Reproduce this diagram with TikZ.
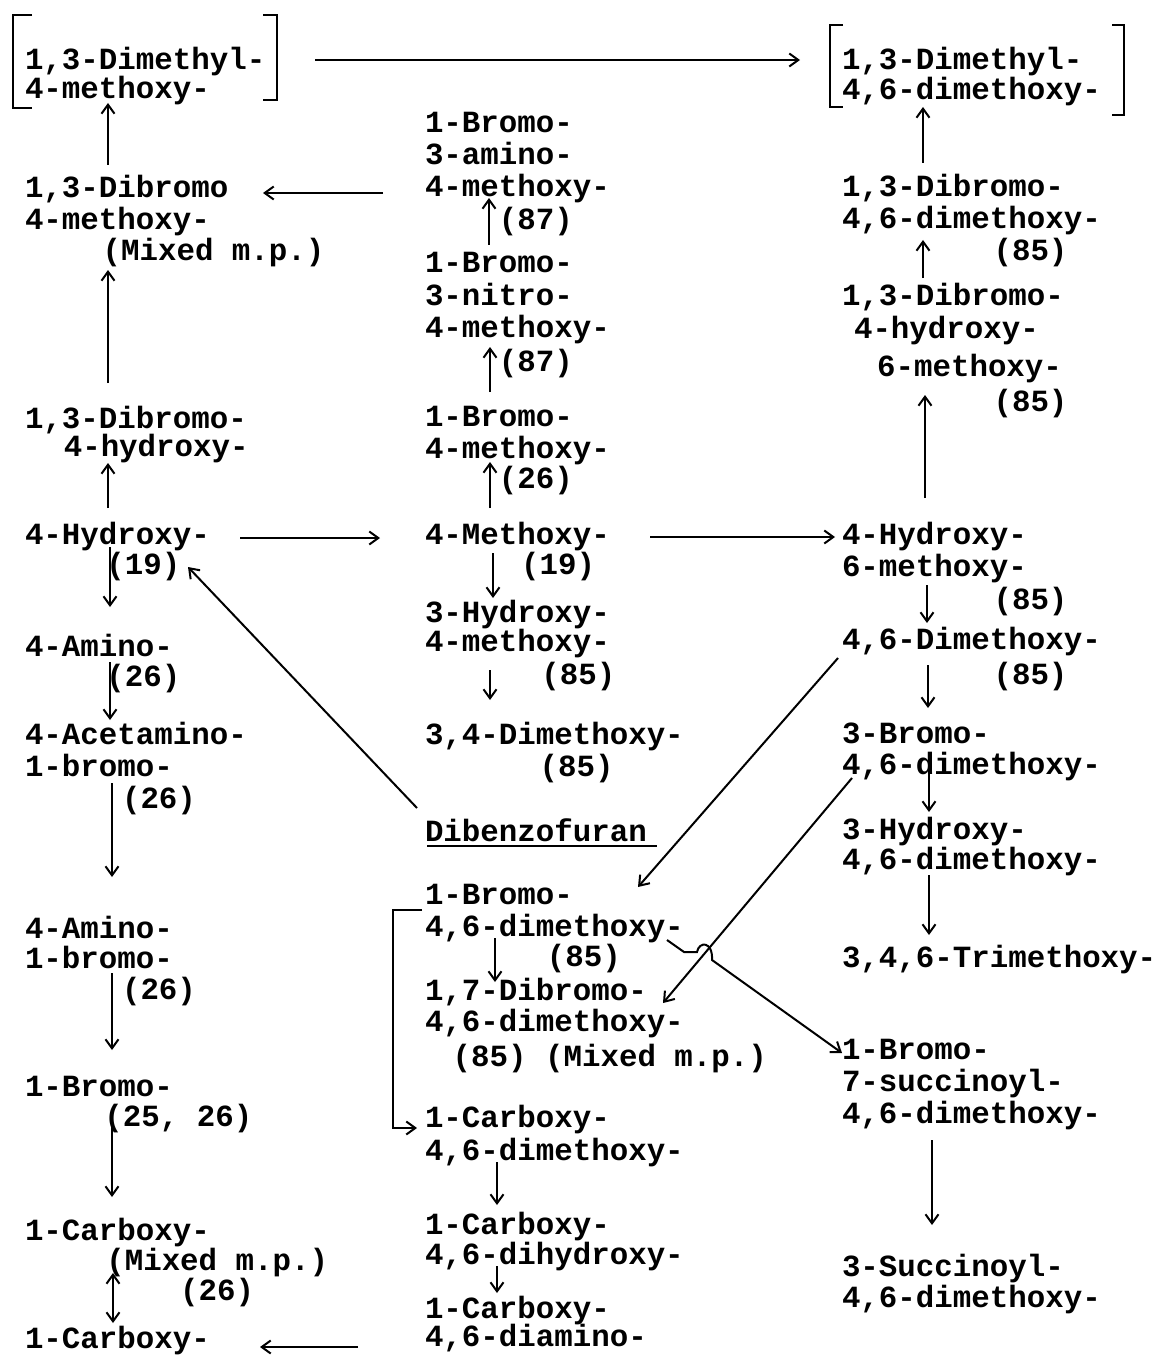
\documentclass[tikz,border=0pt]{standalone}
\usepackage{fontspec}
\newfontfamily\twf{Liberation Mono}
\usetikzlibrary{arrows.meta}
\newlength\chw
\setlength\chw{18.48pt}
\newcommand\ind[1]{\hspace*{#1\chw}}
\newcommand\fst{\rule{0pt}{24pt}}
\tikzset{
  txt/.style={anchor=north west, inner sep=0pt, outer sep=0pt, align=left,
    font=\twf\bfseries\fontsize{30.8}{30}\selectfont},
  arr/.style={draw, line width=2pt, -{Straight Barb[length=9pt,width=13pt]}},
  arr2/.style={draw, line width=2pt, {Straight Barb[length=9pt,width=13pt]}-{Straight Barb[length=9pt,width=13pt]}},
  brk/.style={draw, line width=2.6pt},
}
\begin{document}
\begin{tikzpicture}[x=1pt,y=-1pt]
\useasboundingbox (0,0) rectangle (1168,1356);
\fill[white] (0,0) rectangle (1168,1356);

% left column
\node[txt] (L1) at (25,46) {\fst 1,3-Dimethyl-\\[-1pt]4-methoxy-};
\node[txt] (L2) at (25,174) {\fst 1,3-Dibromo\\[2pt]4-methoxy-\\[1pt]\ind{4.2}(Mixed m.p.)};
\node[txt] (L3) at (25,404) {\fst 1,3-Dibromo-\\[-2pt]\ind{2.1}4-hydroxy-};
\node[txt] (L4) at (25,520) {\fst 4-Hydroxy-\\\ind{4.4}(19)};
\node[txt] (L5) at (25,632) {\fst 4-Amino-\\\ind{4.4}(26)};
\node[txt] (L6) at (25,720) {\fst 4-Acetamino-\\[2pt]1-bromo-\\[2pt]\ind{5.25}(26)};
\node[txt] (L7) at (25,914) {\fst 4-Amino-\\1-bromo-\\[1pt]\ind{5.25}(26)};
\node[txt] (L8) at (25,1072) {\fst 1-Bromo-\\\ind{4.3}(25, 26)};
\node[txt] (L9) at (25,1216) {\fst 1-Carboxy-\\\ind{4.4}(Mixed m.p.)\\\ind{8.4}(26)};
\node[txt] (L10) at (25,1324) {\fst 1-Carboxy-};

% middle column
\node[txt] (M1) at (425,109) {\fst 1-Bromo-\\[1pt]3-amino-\\[3pt]4-methoxy-\\[3pt]\ind{4}(87)};
\node[txt] (M2) at (425,248) {\fst 1-Bromo-\\[3pt]3-nitro-\\[2pt]4-methoxy-\\[4pt]\ind{4}(87)};
\node[txt] (M3) at (425,402) {\fst 1-Bromo-\\[2pt]4-methoxy-\\\ind{4}(26)};
\node[txt] (M4) at (425,520) {\fst 4-Methoxy-\\\ind{5.2}(19)};
\node[txt] (M5) at (425,598) {\fst 3-Hydroxy-\\[-1pt]4-methoxy-\\[3pt]\ind{6.3}(85)};
\node[txt] (M6) at (425,720) {\fst 3,4-Dimethoxy-\\[2pt]\ind{6.2}(85)};
\node[txt] (M7) at (425,817) {\fst Dibenzofuran};
\node[txt] (M8) at (425,880) {\fst 1-Bromo-\\[2pt]4,6-dimethoxy-\\\ind{6.6}(85)};
\node[txt] (M9) at (425,976) {\fst 1,7-Dibromo-\\[1pt]4,6-dimethoxy-\\[5pt]\ind{1.5}(85) (Mixed m.p.)};
\node[txt] (M10) at (425,1103) {\fst 1-Carboxy-\\[3pt]4,6-dimethoxy-};
\node[txt] (M11) at (425,1210) {\fst 1-Carboxy-\\4,6-dihydroxy-};
\node[txt] (M12) at (425,1294) {\fst 1-Carboxy-\\[-2pt]4,6-diamino-};

% right column
\node[txt] (R1) at (842,46) {\fst 1,3-Dimethyl-\\4,6-dimethoxy-};
\node[txt] (R2) at (842,173) {\fst 1,3-Dibromo-\\[1pt]4,6-dimethoxy-\\[2pt]\ind{8.2}(85)};
\node[txt] (R3) at (842,281) {\fst 1,3-Dibromo-\\[3pt]\ind{0.65}4-hydroxy-\\[8pt]\ind{1.9}6-methoxy-\\[5pt]\ind{8.2}(85)};
\node[txt] (R4) at (842,520) {\fst 4-Hydroxy-\\[2pt]6-methoxy-\\[3pt]\ind{8.2}(85)};
\node[txt] (R5) at (842,625) {\fst 4,6-Dimethoxy-\\[5pt]\ind{8.2}(85)};
\node[txt] (R6) at (842,719) {\fst 3-Bromo-\\[1pt]4,6-dimethoxy-};
\node[txt] (R7) at (842,815) {\fst 3-Hydroxy-\\4,6-dimethoxy-};
\node[txt] (R8) at (842,943) {\fst 3,4,6-Trimethoxy-};
\node[txt] (R9) at (842,1035) {\fst 1-Bromo-\\[2pt]7-succinoyl-\\[2pt]4,6-dimethoxy-};
\node[txt] (R10) at (842,1252) {\fst 3-Succinoyl-\\[1pt]4,6-dimethoxy-};

% brackets
\draw[brk] (32,15) -- (13,15) -- (13,108) -- (32,108);
\draw[brk] (263,15) -- (277,15) -- (277,100) -- (263,100);
\draw[brk] (843,25) -- (830,25) -- (830,107) -- (843,107);
\draw[brk] (1112,25) -- (1124,25) -- (1124,115) -- (1112,115);

% underline
\draw[line width=2.2pt] ([shift={(2,29)}]M7.north west) -- ([shift={(232,29)}]M7.north west);

% connectors
\draw[arr] ([shift={(290,14)}]L1.north west) -- ([shift={(-42,14)}]R1.north west);
\draw[arr] ([shift={(-42,84)}]M1.north west) -- ([shift={(238,19)}]L2.north west);
\draw[arr] ([shift={(83,-9)}]L2.north west) -- ([shift={(83,57)}]L1.north west);
\draw[arr] ([shift={(83,-21)}]L3.north west) -- ([shift={(83,96)}]L2.north west);
\draw[arr] ([shift={(83,-12)}]L4.north west) -- ([shift={(83,59)}]L3.north west);
\draw[arr] ([shift={(215,18)}]L4.north west) -- ([shift={(-45,18)}]M4.north west);
\draw[arr] ([shift={(85,27)}]L4.north west) -- ([shift={(85,-25)}]L5.north west);
\draw[arr] ([shift={(85,30)}]L5.north west) -- ([shift={(85,0)}]L6.north west);
\draw[arr] ([shift={(87,63)}]L6.north west) -- ([shift={(87,-37)}]L7.north west);
\draw[arr] ([shift={(87,59)}]L7.north west) -- ([shift={(87,-22)}]L8.north west);
\draw[arr] ([shift={(87,55)}]L8.north west) -- ([shift={(87,-19)}]L9.north west);
\draw[arr2] ([shift={(88,57)}]L9.north west) -- ([shift={(88,-1)}]L10.north west);
\draw[arr] ([shift={(-67,53)}]M12.north west) -- ([shift={(235,23)}]L10.north west);
\draw[arr] ([shift={(-8,-9)}]M7.north west) -- ([shift={(163,47)}]L4.north west);
\draw[arr] ([shift={(64,-3)}]M2.north west) -- ([shift={(64,89)}]M1.north west);
\draw[arr] ([shift={(65,-10)}]M3.north west) -- ([shift={(65,99)}]M2.north west);
\draw[arr] ([shift={(65,-12)}]M4.north west) -- ([shift={(65,60)}]M3.north west);
\draw[arr] ([shift={(225,17)}]M4.north west) -- ([shift={(-7,17)}]R4.north west);
\draw[arr] ([shift={(68,33)}]M4.north west) -- ([shift={(68,0)}]M5.north west);
\draw[arr] ([shift={(65,72)}]M5.north west) -- ([shift={(65,-20)}]M6.north west);
\draw[arr] ([shift={(70,58)}]M8.north west) -- ([shift={(70,6)}]M9.north west);
\draw[arr] ([shift={(-3,30)}]M8.north west) -- ++(-29,0) |- ([shift={(-8,25)}]M10.north west);
\draw[arr] ([shift={(72,59)}]M10.north west) -- ([shift={(72,-5)}]M11.north west);
\draw[arr] ([shift={(72,56)}]M11.north west) -- ([shift={(72,-1)}]M12.north west);
\draw[arr] ([shift={(81,-10)}]R2.north west) -- ([shift={(81,61)}]R1.north west);
\draw[arr] ([shift={(81,-3)}]R3.north west) -- ([shift={(81,67)}]R2.north west);
\draw[arr] ([shift={(83,-22)}]R4.north west) -- ([shift={(83,114)}]R3.north west);
\draw[arr] ([shift={(85,65)}]R4.north west) -- ([shift={(85,-2)}]R5.north west);
\draw[arr] ([shift={(86,40)}]R5.north west) -- ([shift={(86,-11)}]R6.north west);
\draw[arr] ([shift={(87,48)}]R6.north west) -- ([shift={(87,-3)}]R7.north west);
\draw[arr] ([shift={(87,60)}]R7.north west) -- ([shift={(87,-8)}]R8.north west);
\draw[arr] ([shift={(90,105)}]R9.north west) -- ([shift={(90,-27)}]R10.north west);
\draw[arr] ([shift={(-4,33)}]R5.north west) -- ([shift={(213,7)}]M8.north west);
\draw[arr] ([shift={(10,59)}]R6.north west) -- ([shift={(238,27)}]M9.north west);
\draw[arr] ([shift={(242,60)}]M8.north west) -- ([shift={(259,72)}]M8.north west)
  -- ([shift={(272,72)}]M8.north west)
  .. controls ([shift={(274,61)}]M8.north west) and ([shift={(288,61)}]M8.north west) .. ([shift={(287,80)}]M8.north west)
  -- ([shift={(0,18)}]R9.north west);
\end{tikzpicture}
\end{document}
